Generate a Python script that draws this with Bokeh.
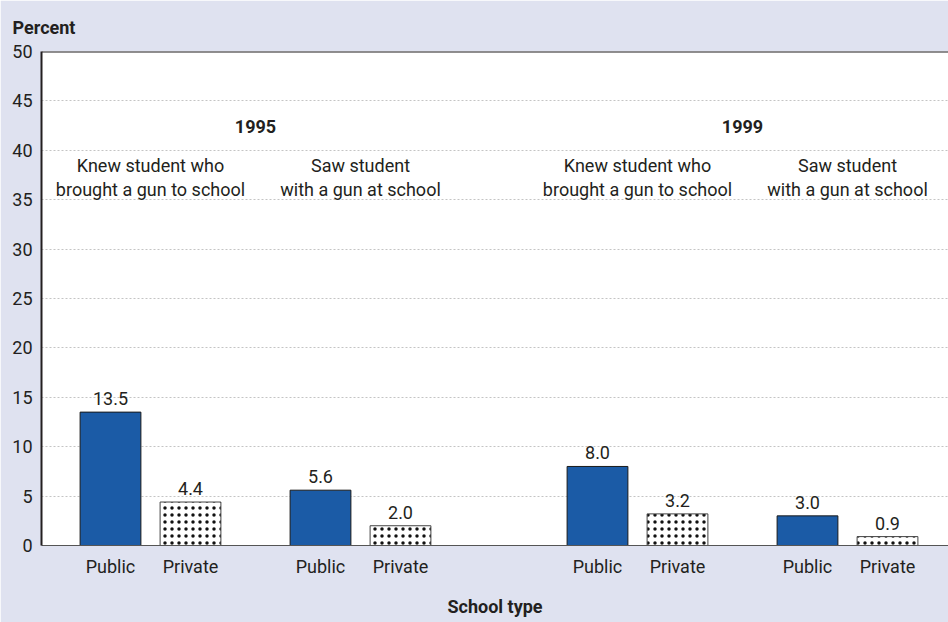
from bokeh.plotting import figure
from bokeh.models import ColumnDataSource, Range1d, FixedTicker, Span, Title
from bokeh.core.properties import value
from bokeh.embed import file_html
from bokeh.resources import INLINE

# ---------------- data ----------------
years = ["1995", "1999"]
questions = ["Knew student who\nbrought a gun to school",
             "Saw student\nwith a gun at school"]
school_types = ["Public", "Private"]
# order: 1995-knew, 1995-saw, 1999-knew, 1999-saw
public_pct = [13.5, 5.6, 8.0, 3.0]
private_pct = [4.4, 2.0, 3.2, 0.9]
y_ticks = [0, 5, 10, 15, 20, 25, 30, 35, 40, 45, 50]

# ---------------- style ----------------
FONT = "Roboto"
TEXT = "#231F20"
BG = "#DFE2F0"
BLUE = "#1B5BA6"
FS = "18px"

# ---------------- layout (computed from the categories) ----------------
STEP, PAIR_GAP, YEAR_GAP = 1.0, 0.625, 1.4625
bars = {st: {"x": [], "top": []} for st in school_types}
tick_x, tick_lbl = [], []
pair_x, pair_lbl, year_x = [], [], []
pos, k = 0.0, 0
for yi, yr in enumerate(years):
    if yi:
        pos += YEAR_GAP
    yr_start = pos
    for qi, q in enumerate(questions):
        if qi:
            pos += PAIR_GAP
        p_start = pos
        for st in school_types:
            v = public_pct[k] if st == "Public" else private_pct[k]
            bars[st]["x"].append(pos)
            bars[st]["top"].append(v)
            tick_x.append(pos)
            tick_lbl.append(st)
            pos += STEP
        pair_x.append((p_start + pos - STEP) / 2)
        pair_lbl.append(q)
        k += 1
    year_x.append((yr_start + pos - STEP) / 2)

p = figure(width=948, height=622, output_backend="svg", toolbar_location=None,
           x_range=Range1d(tick_x[0] - 0.8625, tick_x[-1] + 0.7625),
           y_range=Range1d(0, 50),
           min_border_left=41, min_border_right=0, min_border_top=51,
           min_border_bottom=77)
p.background_fill_color = "white"
p.border_fill_color = BG
p.outline_line_color = None

# grid
p.xgrid.visible = False
p.ygrid.ticker = FixedTicker(ticks=y_ticks)
p.ygrid.grid_line_color = "#C4C4C4"
p.ygrid.grid_line_dash = "2 2"

# y axis
p.yaxis.ticker = FixedTicker(ticks=y_ticks)
p.yaxis.major_tick_out = 0
p.yaxis.major_tick_in = 0
p.yaxis.minor_tick_line_color = None
p.yaxis.axis_line_color = TEXT
p.yaxis.axis_line_width = 2
p.yaxis.major_label_standoff = 9
p.yaxis.major_label_text_font = FONT
p.yaxis.major_label_text_font_size = FS
p.yaxis.major_label_text_color = TEXT

# x axis
p.xaxis.ticker = FixedTicker(ticks=tick_x)
p.xaxis.major_label_overrides = {x: l for x, l in zip(tick_x, tick_lbl)}
p.xaxis.major_tick_out = 0
p.xaxis.major_tick_in = 0
p.xaxis.minor_tick_line_color = None
p.xaxis.axis_line_color = "#555555"
p.xaxis.axis_line_width = 1
p.xaxis.major_label_standoff = 10
p.xaxis.major_label_text_font = FONT
p.xaxis.major_label_text_font_size = FS
p.xaxis.major_label_text_color = TEXT
p.xaxis.axis_label = "School type"
p.xaxis.axis_label_text_font = FONT
p.xaxis.axis_label_text_font_size = FS
p.xaxis.axis_label_text_font_style = "bold"
p.xaxis.axis_label_text_color = TEXT
p.xaxis.axis_label_standoff = 16

# top border
p.add_layout(Span(location=50, dimension="width", line_color=TEXT, line_width=2))

# bars
pub = ColumnDataSource(dict(x=bars["Public"]["x"], top=bars["Public"]["top"],
                            lbl=["%.1f" % v for v in bars["Public"]["top"]]))
pri = ColumnDataSource(dict(x=bars["Private"]["x"], top=bars["Private"]["top"],
                            lbl=["%.1f" % v for v in bars["Private"]["top"]]))
p.vbar(x="x", top="top", width=0.76, source=pub, fill_color=BLUE,
       line_color="#1a1a1a", line_width=1)
p.vbar(x="x", top="top", width=0.76, source=pri, fill_color="white",
       hatch_pattern="dot", hatch_color="#111111", hatch_scale=7,
       hatch_weight=2, line_color="#444444", line_width=1)

for src in (pub, pri):
    p.text(x="x", y="top", text="lbl", source=src, text_align="center",
           text_baseline="bottom", y_offset=-7, text_font=value(FONT),
           text_font_size=FS, text_color=TEXT)

# year labels
p.text(x=year_x, y=[42.4] * len(year_x), text=years, text_align="center",
       text_baseline="alphabetic", text_font=value(FONT), text_font_size=FS,
       text_font_style="bold", text_color=TEXT)

# question labels (two lines each)
lx, ly, lt = [], [], []
for x, q in zip(pair_x, pair_lbl):
    for i, line in enumerate(q.split("\n")):
        lx.append(x)
        ly.append(38.5 - i * 2.43)
        lt.append(line)
p.text(x=lx, y=ly, text=lt, text_align="center", text_baseline="alphabetic",
       text_font=value(FONT), text_font_size=FS, text_color=TEXT)

p.add_layout(Title(text="Percent", align="left", offset=-29, standoff=27,
                   text_font=FONT, text_font_size=FS, text_font_style="bold",
                   text_color=TEXT), "above")

open("out.html", "w").write(file_html(p, INLINE))
